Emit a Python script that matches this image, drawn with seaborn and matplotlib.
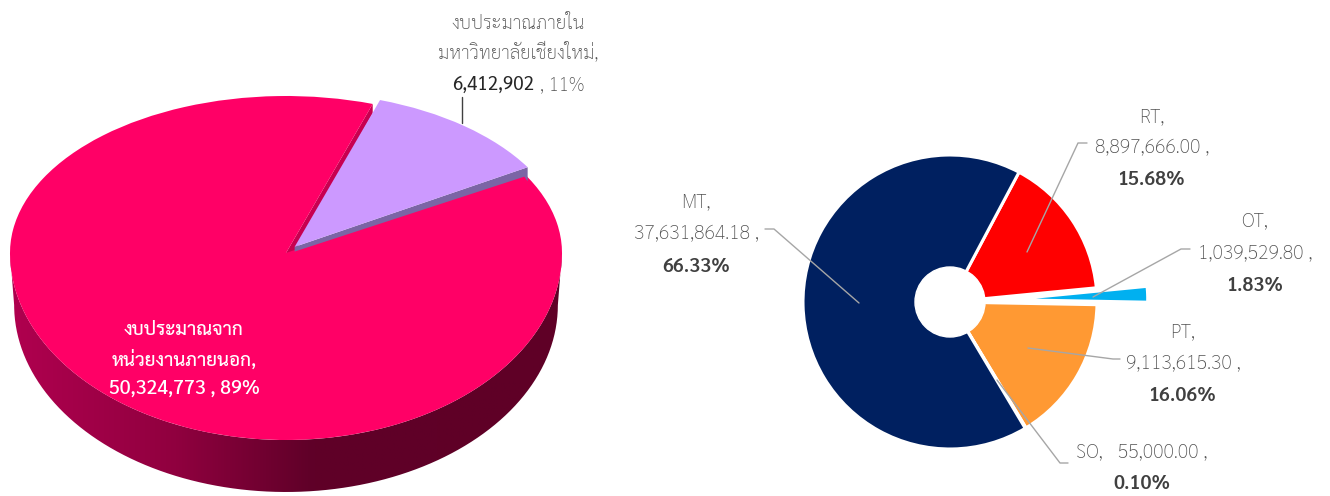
import numpy as np
import matplotlib
matplotlib.use('Agg')
import matplotlib.pyplot as plt
from matplotlib.colors import LinearSegmentedColormap
from matplotlib.patches import Circle, PathPatch, Polygon
from matplotlib.path import Path
import seaborn as sns

W, H = 1330, 496

# budget split
budget_values = [6412902, 50324773]
budget_colors = ['#CC99FF', '#FF0066']

# research types
type_names = ['RT', 'OT', 'PT', 'SO', 'MT']
type_values = [8897666.00, 1039529.80, 9113615.30, 55000.00, 37631864.18]
type_amounts = ['8,897,666.00 ,', '1,039,529.80 ,', '9,113,615.30 ,', '55,000.00 ,', '37,631,864.18 ,']
type_shares = ['15.68%', '1.83%', '16.06%', '0.10%', '66.33%']
type_colors = ['#FF0000', '#00B0F0', '#FF9933', '#BFBFBF', '#002060']

sns.set_theme(style='white')
plt.rcParams['font.family'] = ['Sarabun', 'Noto Sans', 'DejaVu Sans']

fig = plt.figure(figsize=(W / 100, H / 100), dpi=100)


def pixel_axes(cx, cy, sx, sy, x0, x1, y0, y1):
    """Axes over the pixel box x0..x1, y0..y1, with data origin at cx, cy."""
    ax = fig.add_axes([x0 / W, 1 - y1 / H, (x1 - x0) / W, (y1 - y0) / H])
    return ax, ((x0 - cx) / sx, (x1 - cx) / sx), ((cy - y1) / sy, (cy - y0) / sy)


def draw_budget(ax, xlim, ylim):
    wedges, _ = ax.pie(budget_values, colors=budget_colors, explode=[0.05, 0], startangle=31,
                       wedgeprops={'clip_on': True, 'linewidth': 0, 'edgecolor': 'none'})
    ax.set_aspect('auto')
    ax.set_xlim(xlim)
    ax.set_ylim(ylim)
    lilac, pink = wedges
    lilac.set_radius(0.985)
    lilac.set_zorder(3)

    # thin side faces along the cut
    lx, ly = lilac.center
    t = np.deg2rad(lilac.theta1)
    tip = (lx + lilac.r * np.cos(t), ly + lilac.r * np.sin(t))
    ax.add_patch(Polygon([(lx, ly), tip, (tip[0], tip[1] - 0.09), (tip[0] - 0.012, tip[1] - 0.06),
                          (lx, ly - 0.03)], color='#7B65A5', lw=0, zorder=2))
    t = np.deg2rad(pink.theta1)
    tip = (np.cos(t), np.sin(t))
    ax.add_patch(Polygon([(0, 0), tip, (tip[0], tip[1] - 0.06), (0.03, 0.0)],
                         color='#C80050', lw=0, zorder=0.5))


def draw_wall(ax, xlim, ylim):
    # outer wall of the 3d pie, shaded left to right
    t = np.linspace(np.pi, 2 * np.pi, 200)
    top = np.column_stack([np.cos(t), np.sin(t)])
    low = np.column_stack([0.985 * np.cos(t), np.sin(t) - 0.278])[::-1]
    shade = LinearSegmentedColormap.from_list(
        'wall', [(0, '#B0004F'), (0.3, '#90003F'), (0.55, '#5F0028'), (1, '#5F0026')])
    im = ax.imshow(np.linspace(0, 1, 256)[None, :], cmap=shade, aspect='auto',
                   extent=(-1, 1, -1.4, 0), zorder=0)
    im.set_clip_path(PathPatch(Path(np.vstack([top, low])), transform=ax.transData))
    ax.set_xlim(xlim)
    ax.set_ylim(ylim)


# left pie: the upper half is flatter than the lower half
ax_low, xl, yl = pixel_axes(286, 253, 276, 187, 0, 620, 253, H)
draw_wall(ax_low, xl, yl)
draw_budget(ax_low, xl, yl)
ax_up, xl, yl = pixel_axes(286, 253, 276, 157, 0, 620, 0, 253)
draw_budget(ax_up, xl, yl)

# right pie
ax_right, xl, yl = pixel_axes(950, 302, 147, 147, 744, 1156, 96, 496)
wedges, _ = ax_right.pie(type_values, colors=type_colors, startangle=62, counterclock=False,
                         explode=[0, 0.585, 0, 0, 0],
                         wedgeprops={'edgecolor': 'white', 'linewidth': 2.2})
wedges[1].set_radius(0.75)
wedges[1].set_linewidth(0)
ax_right.add_patch(Circle((0, 0), 35 / 147, color='white', zorder=5))
ax_right.set_aspect('auto')
ax_right.set_xlim(xl)
ax_right.set_ylim(yl)

# labels and leaders sit on a pixel overlay
ov = fig.add_axes([0, 0, 1, 1], facecolor='none')
ov.set_xlim(0, W)
ov.set_ylim(H, 0)
ov.axis('off')

leaders = [
    ([1027, 1078, 1087], [252, 143, 143]),
    ([1093, 1181, 1190], [297, 249, 249]),
    ([1028, 1113, 1120], [348, 359, 359]),
    ([997, 1060, 1068], [380, 463, 463]),
    ([859, 774, 765], [303, 229, 229]),
]
for xs, ys in leaders:
    ov.plot(xs, ys, color='#A6A6A6', lw=1.0, zorder=6)
ov.plot([462, 462], [97, 123], color='#404040', lw=1.0)

GREY = '#505050'
kw = {'ha': 'center', 'va': 'center', 'fontsize': 14}
thai = {'ha': 'center', 'va': 'center', 'fontsize': 13.5}
name_pos = [(1152, 117), (1255, 221), (1183, 332), None, (696, 202)]
amount_pos = [(1152, 148), (1255, 253), (1183, 364), None, (696, 234)]
share_pos = [(1152, 180), (1255, 286), (1183, 396), (1142, 484), (696, 267)]
for i, name in enumerate(type_names):
    if name_pos[i] is not None:
        ov.text(*name_pos[i], name + ',', color=GREY, fontweight='light', **kw)
        ov.text(*amount_pos[i], type_amounts[i], color=GREY, fontweight='light', **kw)
    ov.text(*share_pos[i], type_shares[i], color='#404040', fontweight='semibold', **kw)
ov.text(1142, 452, 'SO,   ' + type_amounts[3], color=GREY, fontweight='light', **kw)

ov.text(518, 24, 'งบประมาณภายใน', color=GREY, fontweight='light', **thai)
ov.text(518, 53, 'มหาวิทยาลัยเชียงใหม่,', color=GREY, fontweight='light', **thai)
ov.text(493, 85, '6,412,902', color='#262626', **thai)
ov.text(562, 85, ', 11%', color=GREY, fontweight='light', **thai)

ov.text(184, 330, 'งบประมาณจาก', color='white', fontweight='medium', **thai)
ov.text(184, 359, 'หน่วยงานภายนอก,', color='white', fontweight='medium', **thai)
ov.text(184, 389, '50,324,773 , 89%', color='white', fontweight='medium', **kw)

fig.savefig('out.png', dpi=100)
